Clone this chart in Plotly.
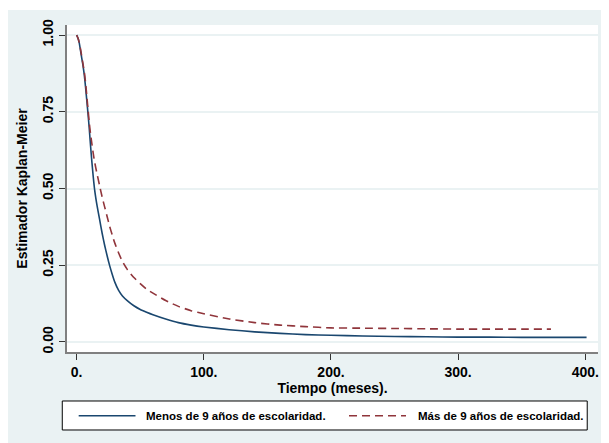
import plotly.graph_objects as go

# Kaplan-Meier estimates
t_menos = [0, 1, 2, 3, 4, 5, 6, 7, 8, 9, 10, 11, 12, 13, 14, 15, 16, 18, 20, 22, 24, 26, 28, 30,
           33, 36, 40, 45, 50, 55, 60, 70, 80, 90, 100, 120, 140, 160, 180, 200, 225, 250, 275,
           300, 325, 350, 375, 401]
s_menos = [1.0, 0.99, 0.975, 0.95, 0.925, 0.90, 0.87, 0.83, 0.785, 0.74, 0.69, 0.635, 0.585, 0.54,
           0.50, 0.47, 0.445, 0.40, 0.355, 0.315, 0.28, 0.248, 0.22, 0.195, 0.168, 0.150, 0.134,
           0.118, 0.106, 0.097, 0.089, 0.075, 0.063, 0.055, 0.049, 0.04, 0.033, 0.028, 0.024,
           0.022, 0.0195, 0.018, 0.017, 0.016, 0.016, 0.015, 0.015, 0.015]

t_mas = [0, 1, 2, 3, 4, 5, 6, 7, 8, 9, 10, 11, 12, 13, 14, 15, 16, 18, 20, 22, 24, 26, 28, 30,
         33, 36, 40, 45, 50, 55, 60, 70, 80, 90, 100, 120, 140, 160, 180, 200, 225, 250, 275,
         300, 325, 350, 373]
s_mas = [1.0, 0.99, 0.975, 0.955, 0.93, 0.905, 0.88, 0.845, 0.80, 0.755, 0.71, 0.675, 0.645, 0.615,
         0.59, 0.568, 0.548, 0.51, 0.473, 0.44, 0.408, 0.376, 0.348, 0.322, 0.29, 0.262, 0.235,
         0.21, 0.19, 0.172, 0.159, 0.135, 0.116, 0.102, 0.092, 0.075, 0.063, 0.055, 0.05,
         0.046, 0.045, 0.044, 0.043, 0.042, 0.042, 0.042, 0.042]

x_ticks = [0, 100, 200, 300, 400]
x_ticktext = ["0.", "100.", "200.", "300.", "400."]
y_ticks = [0, 0.25, 0.5, 0.75, 1.0]
y_ticktext = ["0.00", "0.25", "0.50", "0.75", "1.00"]

name_menos = "Menos de 9 años de escolaridad."
name_mas = "Más de 9 años de escolaridad."

BLUE = "#1a476f"
RED = "#90353b"
BG = "#eaf2f3"
FONT = "Liberation Sans, Arial, sans-serif"

fig = go.Figure()
fig.add_trace(go.Scatter(x=t_menos, y=s_menos, mode="lines", line_shape="spline",
                         line=dict(color=BLUE, width=1.6, smoothing=0.5), name=name_menos,
                         showlegend=False))
fig.add_trace(go.Scatter(x=t_mas, y=s_mas, mode="lines", line_shape="spline",
                         line=dict(color=RED, width=1.6, dash="8px,5px", smoothing=0.5),
                         name=name_mas, showlegend=False))

shapes = [
    # thin white strip at the very top
    dict(type="rect", xref="paper", yref="paper", x0=-0.3, x1=1.3, y0=1.0459, y1=1.3,
         fillcolor="white", line=dict(width=0), layer="below"),
    # legend box
    dict(type="rect", xref="paper", yref="paper", x0=-0.0089, x1=0.9797, y0=-0.2385, y1=-0.1498,
         fillcolor="white", line=dict(color="black", width=1)),
    dict(type="line", xref="paper", yref="paper", x0=0.0220, x1=0.1290, y0=-0.1950, y1=-0.1950,
         line=dict(color=BLUE, width=1.6)),
    dict(type="line", xref="paper", yref="paper", x0=0.5311, x1=0.6384, y0=-0.1950, y1=-0.1950,
         line=dict(color=RED, width=1.6, dash="8px,5px")),
]
annotations = [
    dict(xref="paper", yref="paper", x=0.1457, y=-0.1950, xanchor="left", yanchor="middle",
         text=name_menos, showarrow=False,
         font=dict(size=11.5, color="black", family=FONT, weight="bold")),
    dict(xref="paper", yref="paper", x=0.6572, y=-0.1950, xanchor="left", yanchor="middle",
         text=name_mas, showarrow=False,
         font=dict(size=11.5, color="black", family=FONT, weight="bold")),
]

fig.update_layout(
    width=601, height=435,
    margin=dict(l=59, r=11, t=17, b=91),
    paper_bgcolor=BG, plot_bgcolor="white",
    font=dict(family=FONT, color="black", size=14),
    showlegend=False,
    shapes=shapes, annotations=annotations,
    xaxis=dict(range=[-7.6, 410], tickvals=x_ticks, ticktext=x_ticktext, automargin=False,
               showgrid=False, zeroline=False, showline=True, linecolor="#808080", linewidth=2,
               ticks="outside", ticklen=6, tickcolor="#333333", tickwidth=1,
               tickfont=dict(size=14, weight="bold"),
               title=dict(text="Tiempo (meses).", font=dict(size=14, weight="bold"), standoff=0)),
    yaxis=dict(range=[-0.0326, 1.0326], tickvals=y_ticks, ticktext=y_ticktext, tickangle=-90,
               automargin=False,
               showgrid=True, gridcolor=BG, gridwidth=1.5, zeroline=False,
               showline=True, linecolor="#808080", linewidth=2,
               ticks="outside", ticklen=6, tickcolor="#333333", tickwidth=1,
               tickfont=dict(size=14, weight="bold"),
               title=dict(text="Estimador Kaplan-Meier", font=dict(size=14, weight="bold"),
                          standoff=10)),
)

fig.write_html("out.html")
